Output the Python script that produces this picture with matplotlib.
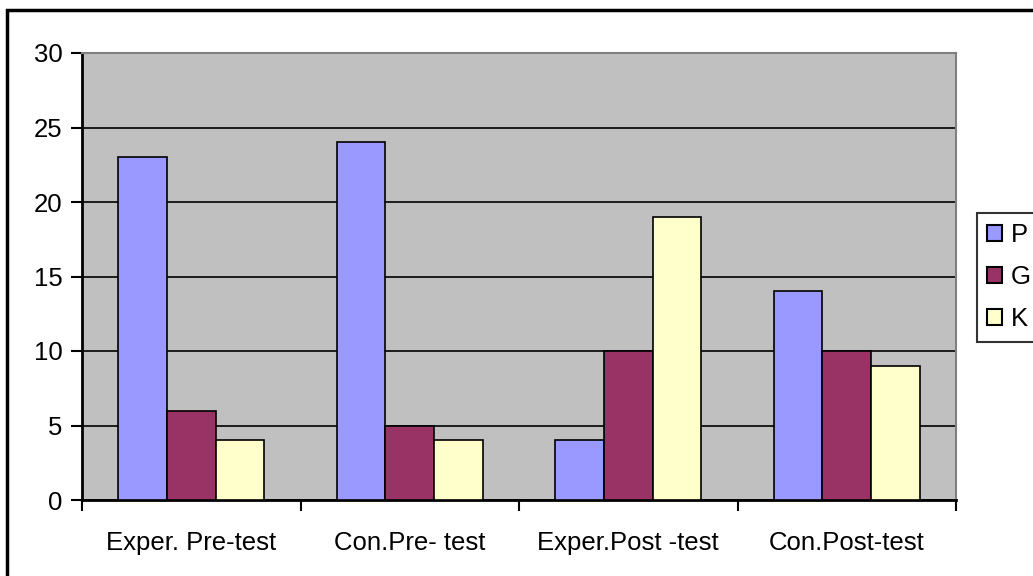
import matplotlib.pyplot as plt
import numpy as np
from matplotlib.patches import Rectangle, Patch

categories = ['Exper. Pre-test', 'Con.Pre- test', 'Exper.Post -test', 'Con.Post-test']
series = ['P', 'G', 'K']
p_vals = [23, 24, 4, 14]
g_vals = [6, 5, 10, 10]
k_vals = [4, 4, 19, 9]
colors = ['#9999FF', '#993366', '#FFFFCC']

plt.rcParams['font.family'] = ['Liberation Sans', 'DejaVu Sans']

fig = plt.figure(figsize=(10.33, 5.76), dpi=100)
ax = fig.add_axes([82 / 1033, 76 / 576, 874 / 1033, 447 / 576])
ax.set_facecolor('#C0C0C0')

x = np.arange(len(categories))
w = 1 / 4.5
for i, (vals, c) in enumerate(zip([p_vals, g_vals, k_vals], colors)):
    ax.bar(x + (i - 1) * w, vals, w, color=c, edgecolor='black', linewidth=1.2, zorder=3)

ax.set_xlim(-0.5, len(categories) - 0.5)
ax.set_ylim(0, 30)
ax.set_yticks(range(0, 31, 5))
ax.yaxis.grid(True, color='black', linewidth=1.2, zorder=1)
ax.set_axisbelow(True)

ax.set_xticks(x)
ax.set_xticklabels(categories, fontsize=18.5)
ax.tick_params(axis='x', length=0, pad=22)
ax.set_xticks(np.arange(-0.5, len(categories)), minor=True)
ax.tick_params(axis='x', which='minor', length=8, width=1.5, direction='out')
ax.tick_params(axis='y', labelsize=18.5, length=8, width=1.5, direction='out', pad=6)

for s in ['top', 'right']:
    ax.spines[s].set_color('#808080')
    ax.spines[s].set_linewidth(1.5)
for s in ['left', 'bottom']:
    ax.spines[s].set_color('black')
    ax.spines[s].set_linewidth(2)

handles = [Patch(facecolor=c, edgecolor='black', linewidth=1.5) for c in colors]
leg = fig.legend(handles, series, loc='upper left', bbox_to_anchor=(977 / 1033, 1 - 213 / 576),
                 fontsize=18.5, frameon=True, fancybox=False, handlelength=0.56, handleheight=0.56,
                 handletextpad=0.35, labelspacing=0.7, borderpad=0.4, borderaxespad=0)
leg.get_frame().set_edgecolor('black')
leg.get_frame().set_linewidth(1.5)

fig.patches.append(Rectangle((7 / 1033, -0.1), 1.2, 1 - 10 / 576 + 0.1, transform=fig.transFigure,
                             fill=False, edgecolor='black', linewidth=2.5))

fig.savefig('out.png', dpi=100)
